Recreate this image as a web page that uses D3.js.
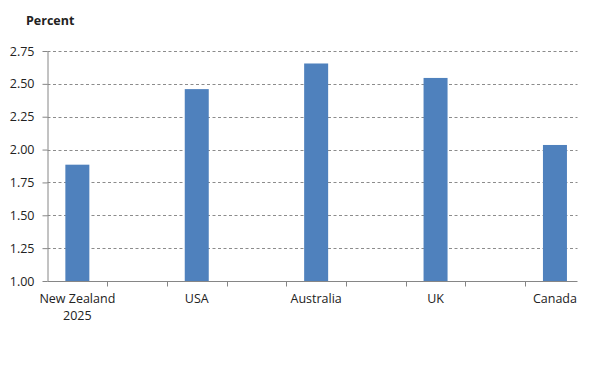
<!DOCTYPE html>
<html>
<head>
<meta charset="utf-8">
<script src="https://cdn.jsdelivr.net/npm/d3@7"></script>
<style>
  body { margin: 0; background: #fff; }
  text { font-family: "Open Sans", "Noto Sans", sans-serif; fill: #222; }
</style>
</head>
<body>
<svg width="600" height="368"></svg>
<script>
// Categories (empty slots sit between the countries on the axis)
var slots = ["New Zealand\n2025", "s1", "USA", "s2", "Australia", "s3", "UK", "s4", "Canada"];
var countries = ["New Zealand\n2025", "USA", "Australia", "UK", "Canada"];
var values = [1.885, 2.46, 2.655, 2.545, 2.035];
var yTicks = [1.00, 1.25, 1.50, 1.75, 2.00, 2.25, 2.50, 2.75];

var svg = d3.select("svg");
var plotLeft = 47.5, plotRight = 577.5, plotTop = 51, plotBottom = 281;

var xb = d3.scaleBand().domain(slots).range([plotLeft, plotLeft + 9 * 59.7]);

var y = d3.scaleLinear()
    .domain([1, 2.75])
    .range([plotBottom, plotTop]);

// gridlines
svg.append("g")
  .selectAll("line")
  .data(yTicks.slice(1))
  .enter()
  .append("line")
    .attr("x1", plotLeft)
    .attr("x2", plotRight)
    .attr("y1", function(d){ return Math.round(y(d)) + 0.5 })
    .attr("y2", function(d){ return Math.round(y(d)) + 0.5 })
    .attr("stroke", "#8c8c8c")
    .attr("stroke-dasharray", "3,2.5")

// bars
svg.append("g")
  .selectAll("rect")
  .data(countries)
  .enter()
  .append("rect")
    .attr("x", function(d){ return xb(d) + xb.bandwidth()/2 - 12 })
    .attr("width", 24)
    .attr("y", function(d, i){ return y(values[i]) })
    .attr("height", function(d, i){ return y(1) - y(values[i]) })
    .attr("fill", "#4f81bd")

// y axis
var yAxis = svg.append("g")
    .attr("transform", "translate(" + plotLeft + ",0)")
    .call(d3.axisLeft(y).tickValues(yTicks).tickFormat(d3.format(".2f")).tickSize(5).tickSizeOuter(0));
yAxis.select(".domain").attr("stroke", "#868686");
yAxis.selectAll(".tick line").attr("stroke", "#868686");
yAxis.selectAll(".tick text")
    .attr("x", -13)
    .style("font-size", "12.5px")
    .attr("fill", "#222");

// x axis
var xAxis = svg.append("g")
    .attr("transform", "translate(0," + (plotBottom + 0.5) + ")")
    .call(d3.axisBottom(xb).tickSize(0).tickFormat(""));
xAxis.select(".domain").attr("d", "M" + plotLeft + ",0H" + plotRight).attr("stroke", "#868686");

// tick marks between slots
xAxis.selectAll(".sep")
  .data(slots.slice(1))
  .enter()
  .append("line")
    .attr("x1", function(d){ return Math.round(xb(d)) + 0.5 })
    .attr("x2", function(d){ return Math.round(xb(d)) + 0.5 })
    .attr("y1", 0)
    .attr("y2", 5)
    .attr("stroke", "#868686")

// category labels
var lab = svg.append("g")
  .selectAll("text")
  .data(countries)
  .enter()
  .append("text")
    .attr("text-anchor", "middle")
    .attr("y", 303)
    .style("font-size", "12.5px")
lab.each(function(d){
  var t = d3.select(this);
  var cx = xb(d) + xb.bandwidth()/2;
  d.split("\n").forEach(function(s, i){
    t.append("tspan").attr("x", cx).attr("dy", i ? 17 : 0).text(s);
  });
});

// title
svg.append("text")
    .attr("x", 26)
    .attr("y", 25)
    .style("font-size", "12.5px")
    .style("font-weight", "bold")
    .text("Percent")
</script>
</body>
</html>
